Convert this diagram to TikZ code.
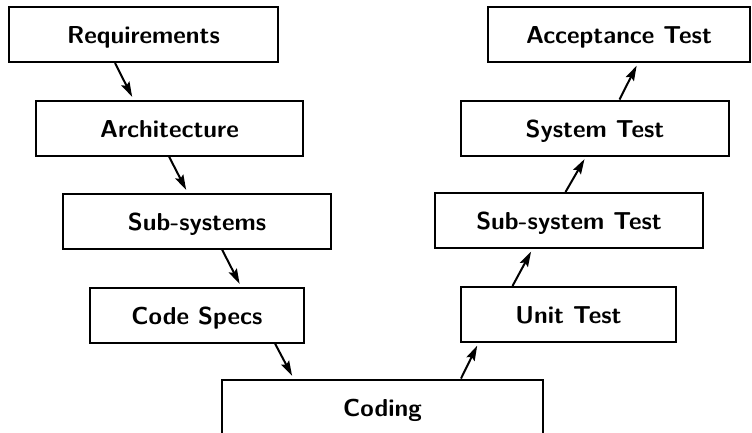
\documentclass[tikz,border=0pt]{standalone}
\usetikzlibrary{arrows.meta}
\begin{document}
\begin{tikzpicture}[x=1pt,y=-1pt,
  phase/.style={draw, line width=2pt, inner sep=0pt, minimum height=55pt,
    text height=18pt, text depth=0pt,
    font=\fontsize{24.5}{28}\selectfont\sffamily\bfseries},
  flow/.style={line width=2pt, -{Stealth[length=15pt,width=9pt,inset=2.5pt]}, shorten >=3pt}]
\useasboundingbox (0,0) rectangle (752,432);
\clip (0,0) rectangle (752,432);
% left leg: specification
\node[phase, minimum width=269pt] (req)  at (143.5,34.5) {Requirements};
\node[phase, minimum width=267pt] (arch) at (169.5,128)  {Architecture};
\node[phase, minimum width=268pt] (sub)  at (197,221)    {Sub-systems};
\node[phase, minimum width=214pt] (spec) at (197,315)    {Code Specs};
% bottom
\node[phase, minimum width=321pt] (code) at (382.5,407)  {Coding};
% right leg: testing
\node[phase, minimum width=215pt] (unit) at (568.5,314.5) {Unit Test};
\node[phase, minimum width=268pt] (subt) at (569,220.5)   {Sub-system Test};
\node[phase, minimum width=268pt] (syst) at (595,128)     {System Test};
\node[phase, minimum width=262pt] (acc)  at (619,34.5)    {Acceptance Test};
% connectors
\draw[flow] ([xshift=107pt]req.south west)  -- ([xshift=98.5pt]arch.north west);
\draw[flow] ([xshift=134pt]arch.south west) -- ([xshift=125.5pt]sub.north west);
\draw[flow] ([xshift=160pt]sub.south west)  -- ([xshift=152pt]spec.north west);
\draw[flow] ([xshift=186pt]spec.south west) -- ([xshift=72.5pt]code.north west);
\draw[flow] ([xshift=240pt]code.north west) -- ([xshift=18.5pt]unit.south west);
\draw[flow] ([xshift=52.5pt]unit.north west) -- ([xshift=98.5pt]subt.south west);
\draw[flow] ([xshift=131.5pt]subt.north west) -- ([xshift=126pt]syst.south west);
\draw[flow] ([xshift=159.5pt]syst.north west) -- ([xshift=151pt]acc.south west);
\end{tikzpicture}
\end{document}
